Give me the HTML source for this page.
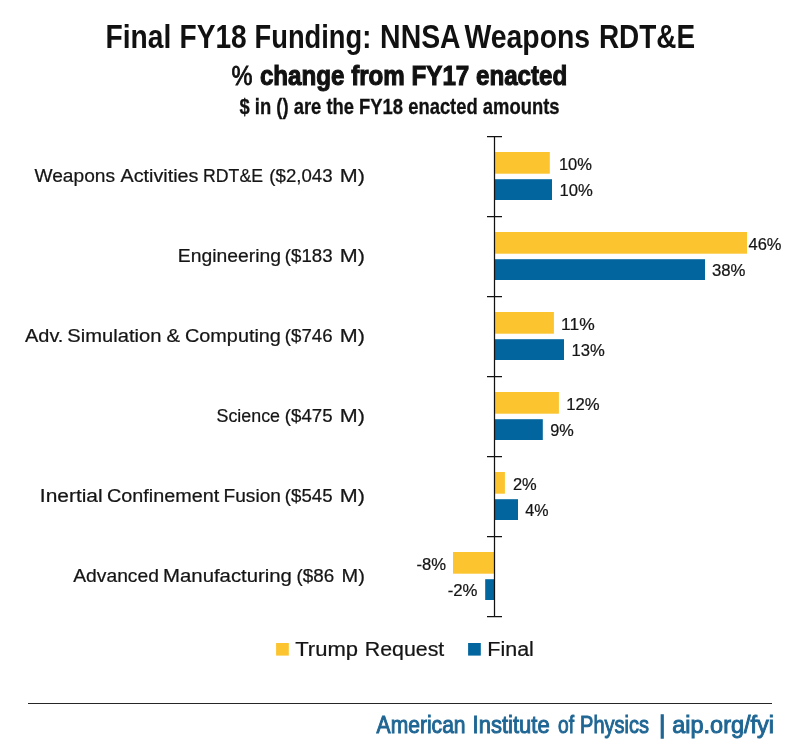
<!DOCTYPE html>
<html lang="en"><head><meta charset="utf-8"><title>Final FY18 Funding: NNSA Weapons RDT&amp;E</title>
<style>
html,body{margin:0;padding:0;background:#fff}
body{width:800px;height:750px;overflow:hidden}
svg{display:block}
text{font-family:"Liberation Sans",sans-serif;fill:#111;white-space:pre}
.t1{font-size:34px;font-weight:700}
.t2{font-size:28px;font-weight:700;stroke:#111;stroke-width:1.1px}
.t3{font-size:22px;font-weight:700;stroke:#111;stroke-width:.3px}
.lb{font-size:17.5px;fill:#151515;stroke:#151515;stroke-width:.22px}
.dl{font-size:16.9px;fill:#151515;stroke:#151515;stroke-width:.22px}
.lg{font-size:19.4px;fill:#151515;stroke:#151515;stroke-width:.22px}
.ft{font-size:24.6px;fill:#1f6694;stroke:#1f6694;stroke-width:1px}
.ax{stroke:#111;stroke-width:1.25;fill:none}
</style></head><body>
<svg width="800" height="750" viewBox="0 0 800 750" role="img" aria-label="Final FY18 Funding: NNSA Weapons RDT&amp;E">
<rect width="800" height="750" fill="#fff"/>
<g>
<text class="t1" y="47.6"><tspan x="105.60" textLength="65.70" lengthAdjust="spacingAndGlyphs">Final</tspan> <tspan x="179.60" textLength="67.15" lengthAdjust="spacingAndGlyphs">FY18</tspan> <tspan x="254.60" textLength="116.70" lengthAdjust="spacingAndGlyphs">Funding:</tspan> <tspan x="380.12" textLength="79.48" lengthAdjust="spacingAndGlyphs">NNSA</tspan> <tspan x="464.46" textLength="125.69" lengthAdjust="spacingAndGlyphs">Weapons</tspan> <tspan x="598.95" textLength="96.20" lengthAdjust="spacingAndGlyphs">RDT&amp;E</tspan></text>
<text class="t2" y="84.8"><tspan x="231.58" textLength="21.00" lengthAdjust="spacingAndGlyphs" style="font-weight:400;stroke-width:.9px">%</tspan> <tspan x="259.92" textLength="307.32" lengthAdjust="spacingAndGlyphs">change from FY17 enacted</tspan></text>
<text class="t3" x="239.5" y="114.2" textLength="320" lengthAdjust="spacingAndGlyphs">$ in () are the FY18 enacted amounts</text>
</g>
<g>
<text class="lb" y="181.9"><tspan x="34.50" textLength="80.50" lengthAdjust="spacingAndGlyphs">Weapons</tspan> <tspan x="120.50" textLength="78.00" lengthAdjust="spacingAndGlyphs">Activities</tspan> <tspan x="203.10" textLength="59.90" lengthAdjust="spacingAndGlyphs">RDT&amp;E</tspan> <tspan x="269.35" textLength="63.15" lengthAdjust="spacingAndGlyphs">($2,043</tspan> <tspan x="339.85" textLength="25.11" lengthAdjust="spacingAndGlyphs">M)</tspan></text>
<rect x="494.5" y="152.0" width="55.3" height="21.7" fill="#FCC42F"/>
<text class="dl" y="169.7" x="558.94" textLength="33.06" lengthAdjust="spacingAndGlyphs">10%</text>
<rect x="494.5" y="179.2" width="57.5" height="20.8" fill="#02659D"/>
<text class="dl" y="196.0" x="559.38" textLength="33.34" lengthAdjust="spacingAndGlyphs">10%</text>
</g>
<g>
<text class="lb" y="261.9"><tspan x="177.85" textLength="103.05" lengthAdjust="spacingAndGlyphs">Engineering</tspan> <tspan x="284.85" textLength="47.65" lengthAdjust="spacingAndGlyphs">($183</tspan> <tspan x="339.85" textLength="25.11" lengthAdjust="spacingAndGlyphs">M)</tspan></text>
<rect x="494.5" y="232.0" width="252.5" height="21.7" fill="#FCC42F"/>
<text class="dl" y="249.7" x="748.50" textLength="33.00" lengthAdjust="spacingAndGlyphs">46%</text>
<rect x="494.5" y="259.2" width="210.5" height="20.8" fill="#02659D"/>
<text class="dl" y="276.0" x="711.94" textLength="33.56" lengthAdjust="spacingAndGlyphs">38%</text>
</g>
<g>
<text class="lb" y="341.9"><tspan x="25.00" textLength="38.40" lengthAdjust="spacingAndGlyphs">Adv.</tspan> <tspan x="67.35" textLength="94.05" lengthAdjust="spacingAndGlyphs">Simulation</tspan> <tspan x="166.50" textLength="13.50" lengthAdjust="spacingAndGlyphs">&amp;</tspan> <tspan x="185.00" textLength="95.90" lengthAdjust="spacingAndGlyphs">Computing</tspan> <tspan x="284.85" textLength="47.65" lengthAdjust="spacingAndGlyphs">($746</tspan> <tspan x="339.85" textLength="25.11" lengthAdjust="spacingAndGlyphs">M)</tspan></text>
<rect x="494.5" y="312.0" width="59.4" height="21.7" fill="#FCC42F"/>
<text class="dl" y="329.7" x="561.10" textLength="33.62" lengthAdjust="spacingAndGlyphs">11%</text>
<rect x="494.5" y="339.2" width="69.5" height="20.8" fill="#02659D"/>
<text class="dl" y="356.0" x="571.44" textLength="33.28" lengthAdjust="spacingAndGlyphs">13%</text>
</g>
<g>
<text class="lb" y="421.9"><tspan x="216.50" textLength="63.50" lengthAdjust="spacingAndGlyphs">Science</tspan> <tspan x="284.85" textLength="47.65" lengthAdjust="spacingAndGlyphs">($475</tspan> <tspan x="339.85" textLength="25.11" lengthAdjust="spacingAndGlyphs">M)</tspan></text>
<rect x="494.5" y="392.0" width="64.4" height="21.7" fill="#FCC42F"/>
<text class="dl" y="409.7" x="566.32" textLength="33.40" lengthAdjust="spacingAndGlyphs">12%</text>
<rect x="494.5" y="419.2" width="48.3" height="20.8" fill="#02659D"/>
<text class="dl" y="436.0" x="550.22" textLength="23.56" lengthAdjust="spacingAndGlyphs">9%</text>
</g>
<g>
<text class="lb" y="501.9"><tspan x="39.85" textLength="62.80" lengthAdjust="spacingAndGlyphs">Inertial</tspan> <tspan x="107.00" textLength="112.25" lengthAdjust="spacingAndGlyphs">Confinement</tspan> <tspan x="223.60" textLength="57.30" lengthAdjust="spacingAndGlyphs">Fusion</tspan> <tspan x="284.85" textLength="47.65" lengthAdjust="spacingAndGlyphs">($545</tspan> <tspan x="339.85" textLength="25.11" lengthAdjust="spacingAndGlyphs">M)</tspan></text>
<rect x="494.5" y="472.0" width="10.4" height="21.7" fill="#FCC42F"/>
<text class="dl" y="489.7" x="512.94" textLength="23.78" lengthAdjust="spacingAndGlyphs">2%</text>
<rect x="494.5" y="499.2" width="23.5" height="20.8" fill="#02659D"/>
<text class="dl" y="516.0" x="525.22" textLength="23.22" lengthAdjust="spacingAndGlyphs">4%</text>
</g>
<g>
<text class="lb" y="581.9"><tspan x="73.25" textLength="85.65" lengthAdjust="spacingAndGlyphs">Advanced</tspan> <tspan x="163.10" textLength="128.80" lengthAdjust="spacingAndGlyphs">Manufacturing</tspan> <tspan x="296.60" textLength="37.65" lengthAdjust="spacingAndGlyphs">($86</tspan> <tspan x="341.60" textLength="23.30" lengthAdjust="spacingAndGlyphs">M)</tspan></text>
<rect x="453.0" y="552.0" width="41.5" height="21.7" fill="#FCC42F"/>
<text class="dl" y="569.7" x="416.50" textLength="29.56" lengthAdjust="spacingAndGlyphs">-8%</text>
<rect x="485.2" y="579.2" width="9.3" height="20.8" fill="#02659D"/>
<text class="dl" y="596.0" x="447.66" textLength="29.84" lengthAdjust="spacingAndGlyphs">-2%</text>
</g>
<path class="ax" d="M494.5 136V617M487 136.5H502M487 216.5H502M487 296.5H502M487 376.5H502M487 456.5H502M487 536.5H502M487 616.5H502"/>
<g>
<rect x="276.1" y="643" width="12.7" height="12.6" fill="#FCC42F"/>
<text class="lg" y="655.9"><tspan x="295.25" textLength="62.75" lengthAdjust="spacingAndGlyphs">Trump</tspan> <tspan x="364.85" textLength="79.40" lengthAdjust="spacingAndGlyphs">Request</tspan></text>
<rect x="468.1" y="643" width="12.7" height="12.6" fill="#02659D"/>
<text class="lg" y="655.9" x="487.35" textLength="46.55" lengthAdjust="spacingAndGlyphs">Final</text>
</g>
<path d="M28 703.5H772" stroke="#262626" stroke-width="1.2" fill="none"/>
<text class="ft" y="732.8"><tspan x="376.58" textLength="89.00" lengthAdjust="spacingAndGlyphs">American</tspan> <tspan x="472.60" textLength="77.06" lengthAdjust="spacingAndGlyphs">Institute</tspan> <tspan x="558.08" textLength="16.02" lengthAdjust="spacingAndGlyphs">of</tspan> <tspan x="580.10" textLength="68.82" lengthAdjust="spacingAndGlyphs">Physics</tspan> <tspan x="659.2" style="font-size:23px;stroke-width:1.3px">|</tspan> <tspan x="672.26" textLength="101.72" lengthAdjust="spacingAndGlyphs">aip.org/fyi</tspan></text>
</svg>
</body></html>
